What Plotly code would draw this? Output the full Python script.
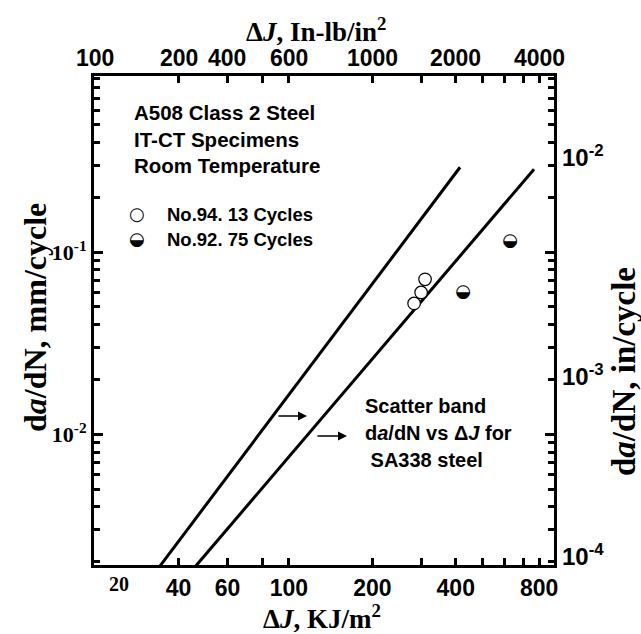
import math
import plotly.graph_objects as go

# ---------------- data ----------------
# scatter band lines (ΔJ in kJ/m², da/dN in mm/cycle)
band_left_dj = [34.3, 414.6]
band_left_dadn = [0.0019, 0.292]
band_right_dj = [46.2, 766.6]
band_right_dadn = [0.0019, 0.285]

# specimen No.94 (13 cycles) - open circles
no94_dj = [310.0, 300.0, 283.0]
no94_dadn = [0.0709, 0.0601, 0.0523]
# specimen No.92 (75 cycles) - half filled circles
no92_dj = [425.0, 628.0]
no92_dadn = [0.0601, 0.1147]

# axis ticks
bottom_tick_vals = [40, 60, 80, 100, 200, 300, 400, 500, 600, 700, 800]
bottom_tick_text = ["40", "60", "", "100", "200", "", "400", "", "", "", "800"]
top_tick_vals = [20, 40, 60, 100, 200, 400, 800]
top_tick_text = ["100", "200", "400", "600", "1000", "2000", "4000"]
left_tick_vals = [0.01, 0.1]
left_tick_text = ["10<sup>-2</sup>", "10<sup>-1</sup>"]
left_minor_vals = [m * 10.0 ** e for e in (-3, -2, -1) for m in range(2, 10)]
right_tick_vals = [0.336, 0.0213, 0.00218]
right_tick_text = ["10<sup>-2</sup>", "10<sup>-3</sup>", "10<sup>-4</sup>"]

X_RANGE = [math.log10(19.8), math.log10(905)]
Y_RANGE = [math.log10(0.00192), math.log10(0.925)]

SANS = "Liberation Sans, Arial, sans-serif"
NARROW = "Liberation Sans Narrow, Arial Narrow, Liberation Sans, Arial, sans-serif"
SERIF = "Liberation Serif, Times New Roman, serif"
GLYPH = "DejaVu Sans"

fig = go.Figure()
line_style = dict(color="black", width=3)
fig.add_trace(go.Scatter(x=band_left_dj, y=band_left_dadn, mode="lines",
                         line=line_style, showlegend=False, hoverinfo="skip"))
fig.add_trace(go.Scatter(x=band_right_dj, y=band_right_dadn, mode="lines",
                         line=line_style, showlegend=False, hoverinfo="skip"))
fig.add_trace(go.Scatter(x=no94_dj, y=no94_dadn, mode="markers",
                         marker=dict(symbol="circle", size=12.5, color="white",
                                     line=dict(color="black", width=1.2)),
                         showlegend=False))
fig.add_trace(go.Scatter(x=no92_dj, y=no92_dadn, mode="text", text=["◒"] * len(no92_dj),
                         textposition="middle center",
                         textfont=dict(family=GLYPH, size=18, color="black"),
                         showlegend=False))

fig.update_layout(
    width=641, height=634,
    margin=dict(l=94, r=87, t=76, b=69),
    paper_bgcolor="white", plot_bgcolor="white",
    showlegend=False,
    xaxis=dict(type="log", range=X_RANGE, showline=True, linewidth=3, linecolor="black",
               mirror="ticks", ticks="inside", ticklen=7, tickwidth=3, tickcolor="black",
               showgrid=False, tickangle=0,
               tickvals=bottom_tick_vals,
               ticktext=["<b>%s</b>" % t if t else " " for t in bottom_tick_text],
               tickfont=dict(family=NARROW, size=23, color="black")),
    yaxis=dict(type="log", range=Y_RANGE, showline=True, linewidth=3, linecolor="black",
               mirror="ticks", ticks="inside", ticklen=9, tickwidth=3, tickcolor="black",
               showgrid=False,
               tickvals=left_tick_vals,
               ticktext=["<b>%s</b>" % t for t in left_tick_text],
               tickfont=dict(family=SERIF, size=22, color="black"),
               minor=dict(tickmode="array", tickvals=left_minor_vals, ticks="inside",
                          ticklen=6, tickwidth=3, tickcolor="black", showgrid=False)),
)

# helper for pixel -> paper conversion
PL, PR, PT, PB = 94, 554, 76, 565
def px(x):
    return (x - PL) / (PR - PL)
def py(y):
    return (PB - y) / (PB - PT)

ann = []
# top axis labels (In-lb/in²) placed on the bottom-axis scale
for v, t in zip(top_tick_vals, top_tick_text):
    ann.append(dict(text="<b>%s</b>" % t, xref="x", x=math.log10(v), y=1, yanchor="bottom",
                    yshift=3, font=dict(family=NARROW, size=23)))
# right axis labels (in/cycle) placed on the left-axis scale
for v, t in zip(right_tick_vals, right_tick_text):
    ann.append(dict(text="<b>%s</b>" % t, yref="y", y=math.log10(v), x=1, xanchor="left",
                    xshift=6, font=dict(family=SANS, size=24)))
# axis titles
ann.append(dict(text="<b>Δ<i>J</i>, In-lb/in<sup>2</sup></b>", x=px(316), y=py(30),
                font=dict(family=SERIF, size=27)))
ann.append(dict(text="<b>Δ<i>J</i>, KJ/m<sup>2</sup></b>", x=px(322), y=py(617),
                font=dict(family=SERIF, size=27)))
ann.append(dict(text="<b>d<i>a</i>/dN, mm/cycle</b>", x=px(35), y=py(318), textangle=-90,
                font=dict(family=SERIF, size=32)))
ann.append(dict(text="<b>d<i>a</i>/dN, in/cycle</b>", x=px(624), y=py(372), textangle=-90,
                font=dict(family=SERIF, size=33)))
# stray "20" label on bottom axis
ann.append(dict(text="<b>20</b>", x=px(119), y=py(584), font=dict(family=SERIF, size=20)))
# header text
header_lines = ["A508 Class 2 Steel", "IT-CT Specimens", "Room Temperature"]
for i, t in enumerate(header_lines):
    ann.append(dict(text="<b>%s</b>" % t, x=px(132), y=py(113 + 26 * i), xanchor="left",
                    font=dict(family=SANS, size=20.5)))
# legend
ann.append(dict(text="○", x=px(137), y=py(213), font=dict(family=GLYPH, size=18)))
ann.append(dict(text="◒", x=px(137), y=py(238), font=dict(family=GLYPH, size=18)))
ann.append(dict(text="<b>No.94. 13 Cycles</b>", x=px(165), y=py(214), xanchor="left",
                font=dict(family=SANS, size=18.5)))
ann.append(dict(text="<b>No.92. 75 Cycles</b>", x=px(165), y=py(239), xanchor="left",
                font=dict(family=SANS, size=18.5)))
# scatter band note
note_lines = ["Scatter band", "d<i>a</i>/dN vs Δ<i>J</i> for", " SA338 steel"]
for i, t in enumerate(note_lines):
    ann.append(dict(text="<b>%s</b>" % t, x=px(363), y=py(406 + 27 * i), xanchor="left",
                    font=dict(family=SANS, size=20)))
# arrows
ann.append(dict(text="", x=px(307), y=py(416), ax=-30, ay=0, showarrow=True,
                arrowhead=2, arrowsize=1.2, arrowwidth=1.5, arrowcolor="black"))
ann.append(dict(text="", x=px(347), y=py(436), ax=-31, ay=0, showarrow=True,
                arrowhead=2, arrowsize=1.2, arrowwidth=1.5, arrowcolor="black"))

for a in ann:
    a.setdefault("xref", "paper")
    a.setdefault("yref", "paper")
    a.setdefault("showarrow", False)
    a.setdefault("xanchor", "center")
    a.setdefault("yanchor", "middle")
    a["font"] = dict(color="black", **a.get("font", {}))
    fig.add_annotation(**a)

fig.write_html("out.html")
